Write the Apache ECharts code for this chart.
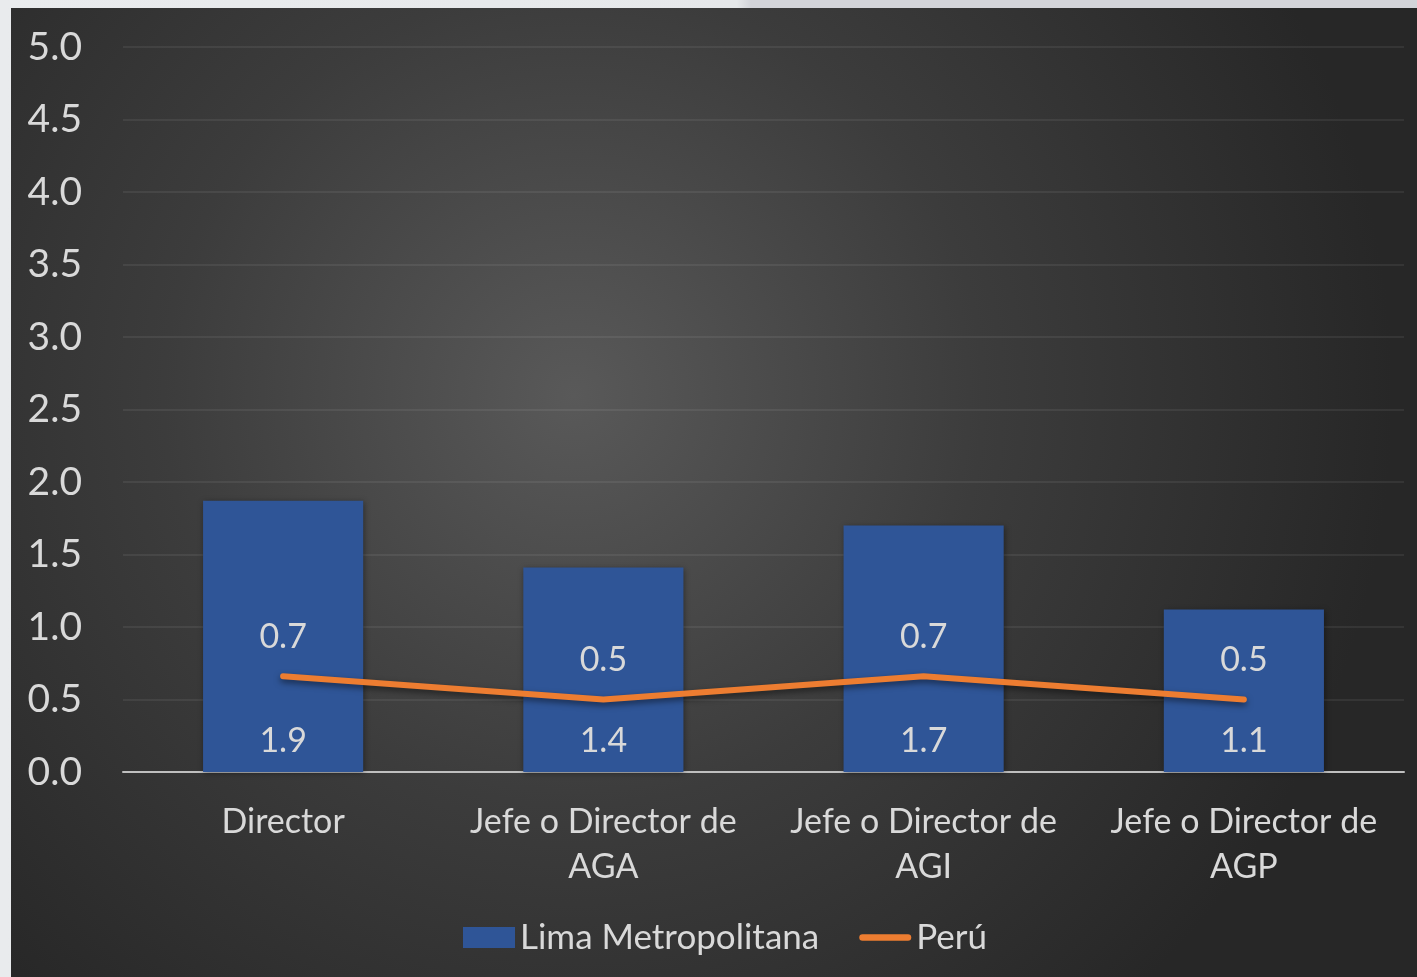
<!DOCTYPE html>
<html>
<head>
<meta charset="utf-8">
<script src="https://cdn.jsdelivr.net/npm/echarts@6/dist/echarts.min.js"></script>
<style>
  html, body { margin: 0; padding: 0; }
  body {
    width: 1417px; height: 977px; overflow: hidden;
    background: linear-gradient(90deg, #e9ebed 0%, #e6e8ea 52%, #d3d4d9 53%, #d3d4d9 100%);
    position: relative;
  }
  #chart {
    position: absolute; left: 11px; top: 8px; width: 1406px; height: 969px;
    background: radial-gradient(circle at 40% 40%, #595959 0%, #3c3c3c 40%, #272727 80%);
  }
</style>
</head>
<body>
<div id="chart"></div>
<script>
const categories = ['Director', 'Jefe o Director de AGA', 'Jefe o Director de AGI', 'Jefe o Director de AGP']
const limaValues = [1.87, 1.41, 1.70, 1.12]
const peruValues = [0.66, 0.50, 0.66, 0.50]
const yTicks = { min: 0, max: 5, interval: 0.5 }

const font = 'Lato, "Open Sans", sans-serif'
const textColor = '#d9d9d9'
const lineIcon = 'path://M3.5,0 L52.5,0 A3.5,3.5 0 0 1 52.5,7 L3.5,7 A3.5,3.5 0 0 1 3.5,0 Z'

const chart = echarts.init(document.getElementById('chart'))
const option = {
  backgroundColor: 'transparent',
  textStyle: { fontFamily: font },
  grid: { left: 112, right: 13, top: 39, bottom: 205 },
  legend: {
    left: 452,
    top: 912,
    padding: 0,
    itemWidth: 52,
    itemHeight: 21,
    itemGap: 40,
    textStyle: { color: textColor, fontSize: 35, fontFamily: font },
    data: [
      { name: 'Lima Metropolitana', icon: 'rect' },
      { name: 'Perú', icon: lineIcon, itemStyle: { color: '#ed7d31', opacity: 1 } }
    ]
  },
  xAxis: {
    type: 'category',
    data: categories,
    axisTick: { show: false },
    axisLine: { lineStyle: { color: '#bfbfbf', width: 2 } },
    axisLabel: {
      color: textColor,
      fontSize: 34,
      lineHeight: 45,
      margin: 28,
      interval: 0,
      formatter: v => v.replace(' de ', ' de\n')
    }
  },
  yAxis: {
    type: 'value',
    min: yTicks.min,
    max: yTicks.max,
    interval: yTicks.interval,
    axisLabel: {
      color: textColor,
      fontSize: 39,
      margin: 41,
      formatter: v => v.toFixed(1)
    },
    splitLine: { lineStyle: { color: 'rgba(255,255,255,0.09)', width: 1.5 } }
  },
  series: [
    {
      name: 'Lima Metropolitana',
      type: 'bar',
      data: limaValues,
      barWidth: '50%',
      itemStyle: {
        color: '#2f5597',
        shadowColor: 'rgba(0,0,0,0.4)',
        shadowBlur: 6,
        shadowOffsetX: 1,
        shadowOffsetY: 1
      },
      label: {
        show: true,
        position: 'insideBottom',
        distance: 14,
        color: textColor,
        fontSize: 34,
        formatter: p => p.value.toFixed(1)
      }
    },
    {
      name: 'Perú',
      type: 'line',
      data: peruValues,
      symbol: 'circle',
      symbolSize: 2,
      showSymbol: true,
      z: 5,
      lineStyle: {
        color: '#ed7d31',
        width: 6,
        cap: 'round',
        join: 'round',
        shadowColor: 'rgba(0,0,0,0.5)',
        shadowBlur: 6,
        shadowOffsetY: 3
      },
      itemStyle: { color: '#ed7d31' },
      label: {
        show: true,
        position: 'top',
        distance: 21,
        color: textColor,
        fontSize: 34,
        formatter: p => p.value.toFixed(1)
      }
    }
  ]
}
chart.setOption(option)
</script>
</body>
</html>
